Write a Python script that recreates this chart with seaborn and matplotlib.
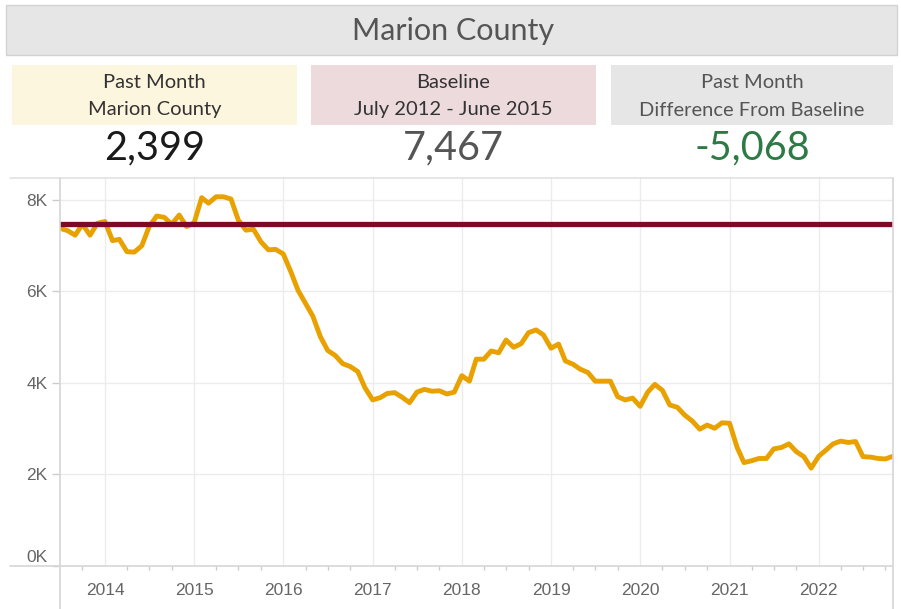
import numpy as np
import pandas as pd
import matplotlib
matplotlib.use("Agg")
import matplotlib.pyplot as plt
import matplotlib.dates as mdates
import matplotlib.transforms as mtransforms
from matplotlib.lines import Line2D
from matplotlib.patches import Rectangle
from matplotlib.ticker import FuncFormatter, FixedLocator
import seaborn as sns

# ---------------- data ----------------
title = "Marion County"
kpi_labels = ["Past Month\nMarion County", "Baseline\nJuly 2012 - June 2015",
              "Past Month\nDifference From Baseline"]
kpi_values = ["2,399", "7,467", "-5,068"]
baseline = 7467
start_month = "2013-07-01"
# monthly values (thousands), Jul 2013 .. Nov 2022
values_k = [
    7.38, 7.33, 7.23, 7.47, 7.23, 7.49,
    7.53, 7.11, 7.14, 6.87, 6.86, 7.00, 7.42, 7.65, 7.62, 7.47, 7.67, 7.42,
    7.50, 8.05, 7.93, 8.07, 8.07, 8.02, 7.56, 7.34, 7.36, 7.09, 6.91, 6.92,
    6.82, 6.43, 6.03, 5.74, 5.46, 5.01, 4.71, 4.60, 4.42, 4.36, 4.25, 3.89,
    3.63, 3.68, 3.77, 3.79, 3.69, 3.57, 3.80, 3.86, 3.82, 3.83, 3.76, 3.80,
    4.16, 4.04, 4.52, 4.52, 4.70, 4.66, 4.94, 4.78, 4.86, 5.10, 5.16, 5.05,
    4.76, 4.85, 4.48, 4.41, 4.30, 4.23, 4.04, 4.04, 4.04, 3.70, 3.63, 3.67,
    3.49, 3.80, 3.97, 3.84, 3.52, 3.47, 3.30, 3.17, 2.99, 3.08, 3.01, 3.13,
    3.12, 2.59, 2.26, 2.30, 2.35, 2.35, 2.56, 2.59, 2.67, 2.50, 2.39, 2.14,
    2.40, 2.54, 2.67, 2.73, 2.70, 2.72, 2.39, 2.38, 2.35, 2.34, 2.399,
]
y_ticks = [0, 2000, 4000, 6000, 8000]
x_years = [2014, 2015, 2016, 2017, 2018, 2019, 2020, 2021, 2022]

months = pd.date_range(start_month, periods=len(values_k), freq="MS")
df = pd.DataFrame({"month": months, "count": np.array(values_k) * 1000})

# ---------------- figure ----------------
sns.set_theme(style="white")
plt.rcParams["font.family"] = ["Lato", "DejaVu Sans"]

W, H = 901, 609
fig = plt.figure(figsize=(W / 100, H / 100), dpi=100)


def fx(px):
    return px / W


def fy(py):
    return 1 - py / H


# title bar
fig.add_artist(Rectangle((fx(6), fy(55)), fx(891), 50 / H, transform=fig.transFigure,
                         facecolor="#e6e6e6", edgecolor="#d2d2d2", lw=1))
fig.text(fx(453), fy(31), title, ha="center", va="center", fontsize=22,
         color="#555555")

# KPI boxes
box_x = [(12, 297), (311, 596), (611, 893)]
box_colors = ["#fdf6df", "#ecdadd", "#e6e6e6"]
label_colors = ["#333333", "#333333", "#555555"]
value_colors = ["#1a1a1a", "#555555", "#2e7a45"]
for (x0, x1), bc, lc, vc, lab, val in zip(box_x, box_colors, label_colors,
                                          value_colors, kpi_labels, kpi_values):
    fig.add_artist(Rectangle((fx(x0), fy(125)), fx(x1 - x0), 60 / H,
                             transform=fig.transFigure, facecolor=bc,
                             edgecolor="none"))
    l1, l2 = lab.split("\n")
    cx = fx((x0 + x1) / 2)
    fig.text(cx, fy(82), l1, ha="center", va="center", fontsize=14.5, color=lc)
    fig.text(cx, fy(110), l2, ha="center", va="center", fontsize=14.5, color=lc)
    fig.text(cx, fy(148), val, ha="center", va="center", fontsize=28.5, color=vc)

# chart axes
ax = fig.add_axes([fx(60), fy(566), fx(893 - 60), (566 - 178) / H])
sns.lineplot(data=df, x="month", y="count", ax=ax, color="#e9a100", lw=3.5)
ax.axhline(baseline, color="#7d0b28", lw=3.8, zorder=3)

ax.set_xlim(months[0], months[-1])
ax.set_ylim(0, 8480)
ax.set_yticks(y_ticks)
ax.yaxis.set_major_formatter(FuncFormatter(lambda v, p: f"{int(v/1000)}K"))
year_dates = [pd.Timestamp(f"{y}-01-01") for y in x_years]
ax.set_xticks(year_dates)
ax.set_xticklabels([str(y) for y in x_years])
q_dates = [d for d in pd.date_range("2013-10-01", months[-1], freq="QS")
           if d.month != 1]
ax.xaxis.set_minor_locator(FixedLocator(mdates.date2num(q_dates)))

ax.grid(True, which="major", color="#ececec", lw=1)
ax.set_xlabel("")
ax.set_ylabel("")
for s in ax.spines.values():
    s.set_visible(False)
ax.tick_params(axis="y", which="major", left=True, length=6, width=1,
               color="#cccccc", labelsize=12.5, labelcolor="#666666", pad=3)
ax.tick_params(axis="x", which="major", bottom=False, labelsize=12.5,
               labelcolor="#666666", pad=6)
ax.tick_params(axis="x", which="minor", bottom=True, length=3, width=1,
               color="#cccccc")
for t in ax.get_xticklabels() + ax.get_yticklabels():
    t.set_fontfamily(["Liberation Sans", "DejaVu Sans"])

# the 0K label sits just above the axis line, as in the reference
zero_lbl = ax.get_yticklabels()[0]
zero_lbl.set_transform(zero_lbl.get_transform() +
                       mtransforms.ScaledTranslation(0, 10 / 100, fig.dpi_scale_trans))

# frame lines
lc = "#d6d6d6"
fig.add_artist(Line2D([fx(10), fx(893)], [fy(178), fy(178)], color="#e2e2e2", lw=1.2))
fig.add_artist(Line2D([fx(10), fx(893)], [fy(566), fy(566)], color=lc, lw=1.2))
fig.add_artist(Line2D([fx(60), fx(60)], [fy(178), fy(609)], color=lc, lw=1.2))
fig.add_artist(Line2D([fx(893), fx(893)], [fy(178), fy(609)], color=lc, lw=1.2))

fig.savefig("out.png", dpi=100, facecolor="white")
